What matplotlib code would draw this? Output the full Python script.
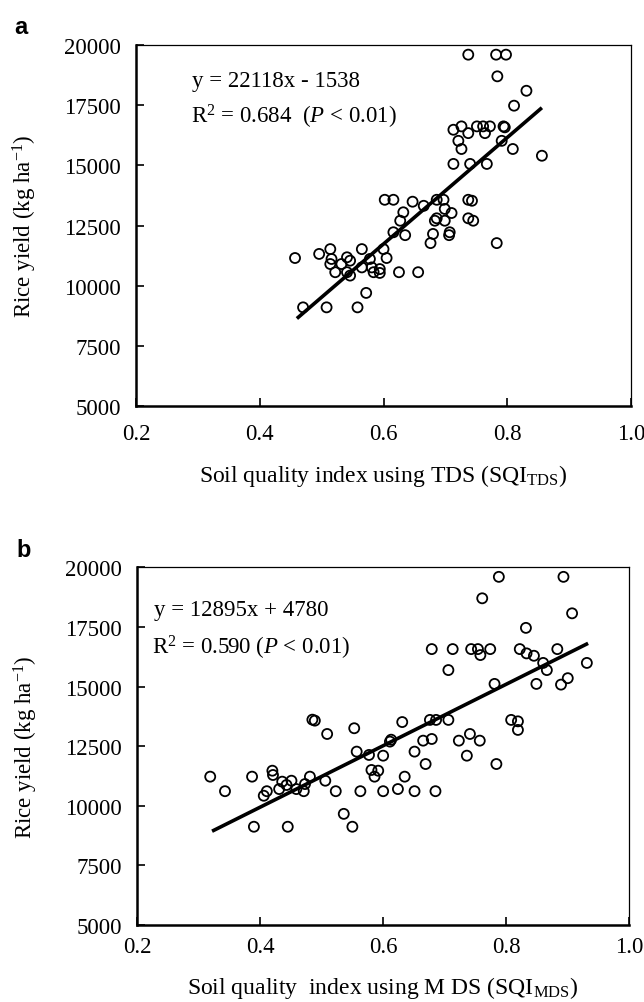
import matplotlib
matplotlib.use("Agg")
import matplotlib.pyplot as plt
import numpy as np

plt.rcParams['font.family'] = ['Liberation Serif', 'DejaVu Serif']
plt.rcParams['mathtext.fontset'] = 'custom'
plt.rcParams['mathtext.rm'] = 'Liberation Serif'
plt.rcParams['mathtext.it'] = 'Liberation Serif:italic'

# panel a: SQI from the total data set
tds_x = [0.737, 0.782, 0.798, 0.784, 0.831, 0.811, 0.713, 0.726, 0.737, 0.721,
         0.726, 0.751, 0.761, 0.764, 0.772, 0.794, 0.796, 0.791, 0.809, 0.713,
         0.740, 0.767, 0.856,
         0.602, 0.616, 0.647, 0.665, 0.686, 0.697, 0.737, 0.743, 0.632, 0.627,
         0.699, 0.710, 0.686, 0.699, 0.683, 0.737, 0.745, 0.616, 0.635, 0.680,
         0.676, 0.707, 0.706, 0.783,
         0.457, 0.496, 0.514, 0.516, 0.514, 0.522, 0.532, 0.541, 0.546, 0.541,
         0.546, 0.565, 0.565, 0.578, 0.581, 0.584, 0.594, 0.600, 0.605, 0.594,
         0.625, 0.656, 0.572, 0.470, 0.508, 0.558]
tds_y = [19600, 19600, 19600, 18700, 18100, 17480, 16480, 16620, 16340, 16020,
         15680, 16620, 16620, 16340, 16620, 16620, 16580, 16020, 15680, 15060,
         15060, 15060, 15400,
         13570, 13570, 13490, 13320, 13570, 13570, 13570, 13530, 13050, 12700,
         13190, 13020, 12800, 12700, 12700, 12800, 12700, 12220, 12100, 12150,
         11770, 12220, 12100, 11770,
         11150, 11320, 11520, 11110, 10900, 10560, 10900, 11180, 11040, 10560,
         10420, 11520, 10760, 11110, 10760, 10560, 10690, 11520, 11150, 10530,
         10560, 10560, 9700, 9100, 9100, 9100]
tds_fit = (22118, -1538)
tds_fit_range = (0.460, 0.856)
tds_eq = ["y = 22118x - 1538", "R$^2$ = 0.684  ($P$ < 0.01)"]

# panel b: SQI from the minimum data set
mds_x = [0.485, 0.489, 0.509, 0.553,
         0.788, 0.893, 0.761, 0.907, 0.832,
         0.679, 0.713, 0.743, 0.754, 0.758, 0.774,
         0.822, 0.833, 0.845, 0.860, 0.866, 0.883, 0.931,
         0.706, 0.781, 0.849, 0.889, 0.900,
         0.631, 0.676, 0.686, 0.706, 0.808, 0.819, 0.819,
         0.613, 0.611, 0.665, 0.679, 0.741, 0.723, 0.757,
         0.319, 0.343, 0.387, 0.390, 0.420, 0.421, 0.411, 0.406,
         0.431, 0.436, 0.443, 0.451, 0.445, 0.459, 0.473, 0.471,
         0.481, 0.506, 0.523, 0.536, 0.550, 0.557, 0.563, 0.577,
         0.581, 0.586, 0.592,
         0.600, 0.600, 0.624, 0.635, 0.651, 0.651, 0.669, 0.685, 0.736, 0.784]
mds_y = [13610, 13570, 13010, 13250,
         19600, 19600, 18700, 18070, 17460,
         16570, 16570, 16570, 16570, 16320, 16570,
         16570, 16390, 16290, 15990, 15690, 16570, 15990,
         15690, 15110, 15110, 15080, 15350,
         13510, 13600, 13600, 13600, 13600, 13540, 13180,
         12770, 12690, 12730, 12800, 13010, 12730, 12730,
         11220, 10610, 11220, 9120, 11470, 11290, 10610, 10420,
         10700, 11010, 10870, 11050, 9120, 10700, 10910, 10610,
         11220, 11050, 10610, 9660, 9120, 12270, 10610, 12130,
         11500, 11220, 11470,
         12100, 10610, 10700, 11220, 10610, 12270, 11750, 10610, 12100, 11750]
mds_fit = (12895, 4780)
mds_fit_range = (0.322, 0.933)
mds_eq = ["y = 12895x + 4780", "R$^2$ = 0.590 ($P$ < 0.01)"]

x_ticks = [0.2, 0.4, 0.6, 0.8, 1.0]
y_ticks = [5000, 7500, 10000, 12500, 15000, 17500, 20000]

FS = 16.5


def draw_panel(ax, xs, ys, fit, fit_range, eq, eq_pos, xlabel, xlabel_y,
               xpad, letter):
    ax.scatter(xs, ys, s=52, facecolors='none', edgecolors='k',
               linewidths=1.3, zorder=3)
    lx = np.array(fit_range)
    ax.plot(lx, fit[0] * lx + fit[1], color='k', lw=2.6,
            solid_capstyle='butt', zorder=4)

    ax.set_xlim(0.2, 1.0)
    ax.set_ylim(5000, 20000)
    ax.set_xticks(x_ticks)
    ax.set_xticklabels(["{:.1f}".format(t) for t in x_ticks])
    ax.set_yticks(y_ticks)
    ax.set_yticklabels([str(t) for t in y_ticks])
    ax.tick_params(direction='in', length=6, width=1.2, labelsize=FS,
                   top=False, right=False)
    ax.tick_params(axis='x', pad=xpad)
    ax.tick_params(axis='y', pad=11)

    for side in ('left', 'bottom'):
        ax.spines[side].set_linewidth(1.8)
    for side in ('top', 'right'):
        ax.spines[side].set_linewidth(0.9)

    ax.text(eq_pos[0], eq_pos[1], eq[0], transform=ax.transAxes,
            fontsize=FS, va='center', ha='left')
    ax.text(eq_pos[2], eq_pos[3], eq[1], transform=ax.transAxes,
            fontsize=FS, va='center', ha='left')

    ax.set_xlabel(xlabel, fontsize=17)
    ax.xaxis.set_label_coords(0.5, xlabel_y)
    ax.xaxis.label.set_va('center')
    ax.set_ylabel("Rice yield (kg ha$^{-1}$)", fontsize=FS)
    ax.yaxis.set_label_coords(-0.225, 0.5)
    ax.yaxis.label.set_va('center')

    ax.text(-0.245, 1.05, letter, transform=ax.transAxes, fontsize=17,
            fontweight='bold', family=['Liberation Sans', 'DejaVu Sans'],
            va='center', ha='left')


fig = plt.figure(figsize=(6.44, 10.03), dpi=100)
ax_a = fig.add_axes([0.2112, 0.5942, 0.7686, 0.3599])
ax_b = fig.add_axes([0.2127, 0.0768, 0.7645, 0.3566])

draw_panel(ax_a, tds_x, tds_y, tds_fit, tds_fit_range, tds_eq,
           (0.114, 0.901, 0.112, 0.804),
           "Soil quality index using TDS (SQI$_{\\mathrm{TDS}}$)", -0.192,
           12, "a")
draw_panel(ax_b, mds_x, mds_y, mds_fit, mds_fit_range, mds_eq,
           (0.035, 0.881, 0.031, 0.777),
           "Soil quality  index using M DS (SQI$_{\\mathrm{MDS}}$)", -0.174,
           8, "b")

fig.savefig("out.png", dpi=100)
